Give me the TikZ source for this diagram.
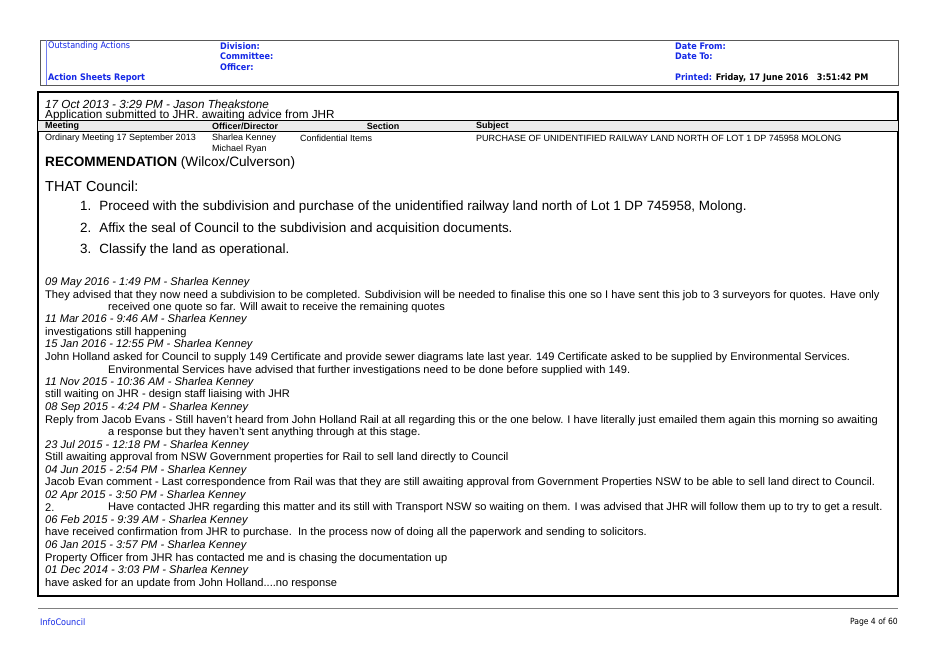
\documentclass[tikz,border=0pt]{standalone}
\usepackage{fontspec}
\setmainfont{Liberation Sans}
\newfontfamily\hdr{DejaVu Sans Condensed}
\definecolor{hblue}{RGB}{20,40,230}
\begin{document}
\begin{tikzpicture}[x=1pt,y=-1pt,
  t/.style={anchor=west,inner sep=0pt,yshift=-2pt,font=\fontsize{11.1}{12}\selectfont},
  ti/.style={t,font=\fontsize{11.1}{12}\selectfont\itshape},
  tl/.style={anchor=west,inner sep=0pt,yshift=-1.5pt,font=\fontsize{11.7}{13}\selectfont},
  sm/.style={anchor=west,inner sep=0pt,yshift=-1pt,font=\fontsize{9}{10}\selectfont},
  smb/.style={sm,font=\fontsize{9}{10}\selectfont\bfseries},
  hb/.style={anchor=west,inner sep=0pt,text=hblue,font=\hdr\fontsize{9}{10}\selectfont\bfseries},
  hn/.style={anchor=west,inner sep=0pt,text=hblue,font=\hdr\fontsize{9}{10}\selectfont},
  big/.style={anchor=west,inner sep=0pt,yshift=-1.5pt,font=\fontsize{13.4}{15}\selectfont}]
\useasboundingbox[fill=white] (0,0) rectangle (939,664);
% header
\draw[gray!70!black,line width=0.8pt] (40,40) rectangle (898,85);
\draw[hblue!60,line width=0.8pt] (46,40) -- (46,85);
\node[hn] (oa) at (48,46) {Outstanding Actions};
\node[hb] (asr) at (48,78) {Action Sheets Report};
\node[hb] (div) at (220,46) {Division:};
\node[hb] (com) at (220,56) {Committee:};
\node[hb] (off) at (220,67) {Officer:};
\node[hb] (df) at (675,46) {Date From:};
\node[hb] (dt) at (675,56) {Date To:};
\node[hb] (pr) at (675,78) {Printed: \textcolor{black}{Friday, 17 June 2016\ \ \ 3:51:42 PM}};
% main box
\draw[black,line width=1.3pt] (38,92) rectangle (898,596);
\fill[gray!15] (38,120) rectangle (898,131);
\draw[line width=0.8pt] (38,120) -- (898,120);
\draw[line width=0.6pt] (38,131) -- (898,131);
\node[tl,font=\fontsize{11.7}{13}\selectfont\itshape] (h1) at (45,103) {17 Oct 2013 - 3:29 PM - Jason Theakstone};
\node[tl] (h2) at (45,114) {Application submitted to JHR. awaiting advice from JHR};
\node[smb] (c1) at (45,125.5) {Meeting};
\node[smb] (c2) at (212,125.5) {Officer/Director};
\node[smb,anchor=center] (c3) at (383,125.5) {Section};
\node[smb] (c4) at (476,125.5) {Subject};
\node[sm] (r1) at (45,137) {Ordinary Meeting 17 September 2013};
\node[sm] (r2) at (212,137) {Sharlea Kenney};
\node[sm] (r2b) at (212,148) {Michael Ryan};
\node[sm] (r3) at (300,137) {Confidential Items};
\node[sm] (r4) at (476,137) {PURCHASE OF UNIDENTIFIED RAILWAY LAND NORTH OF LOT 1 DP 745958 MOLONG};
\node[big,font=\fontsize{13.6}{15}\selectfont] (rec) at (45,161) {\textbf{RECOMMENDATION} (Wilcox/Culverson)};
\node[big,font=\fontsize{14.5}{16}\selectfont] (tc) at (45,185) {THAT Council:};
\node[big] (n1) at (80,206) {1.\hspace{8pt}Proceed with the subdivision and purchase of the unidentified railway land north of Lot 1 DP 745958, Molong.};
\node[big] (n2) at (80,228) {2.\hspace{8pt}Affix the seal of Council to the subdivision and acquisition documents.};
\node[big] (n3) at (80,249) {3.\hspace{8pt}Classify the land as operational.};
% log
\node[ti] (a1) at (45,281) {09 May 2016 - 1:49 PM - Sharlea Kenney};
\node[t] (a2) at (45,294) {They advised that they now need a subdivision to be completed. Subdivision will be needed to finalise this one so I have sent this job to 3 surveyors for quotes. Have only};
\node[t] (a3) at (108,306) {received one quote so far. Will await to receive the remaining quotes};
\node[ti] (b1) at (45,318) {11 Mar 2016 - 9:46 AM - Sharlea Kenney};
\node[t] (b2) at (45,331) {investigations still happening};
\node[ti] (c1a) at (45,343) {15 Jan 2016 - 12:55 PM - Sharlea Kenney};
\node[t] (c2a) at (45,356) {John Holland asked for Council to supply 149 Certificate and provide sewer diagrams late last year. 149 Certificate asked to be supplied by Environmental Services.};
\node[t] (c3a) at (108,369) {Environmental Services have advised that further investigations need to be done before supplied with 149.};
\node[ti] (d1) at (45,381) {11 Nov 2015 - 10:36 AM - Sharlea Kenney};
\node[t] (d2) at (45,393) {still waiting on JHR - design staff liaising with JHR};
\node[ti] (e1) at (45,406) {08 Sep 2015 - 4:24 PM - Sharlea Kenney};
\node[t] (e2) at (45,419) {Reply from Jacob Evans - Still haven't heard from John Holland Rail at all regarding this or the one below. I have literally just emailed them again this morning so awaiting};
\node[t] (e3) at (108,431) {a response but they haven't sent anything through at this stage.};
\node[ti] (f1) at (45,444) {23 Jul 2015 - 12:18 PM - Sharlea Kenney};
\node[t] (f2) at (45,456) {Still awaiting approval from NSW Government properties for Rail to sell land directly to Council};
\node[ti] (g1) at (45,469) {04 Jun 2015 - 2:54 PM - Sharlea Kenney};
\node[t] (g2) at (45,481) {Jacob Evan comment - Last correspondence from Rail was that they are still awaiting approval from Government Properties NSW to be able to sell land direct to Council.};
\node[ti] (h1a) at (45,494) {02 Apr 2015 - 3:50 PM - Sharlea Kenney};
\node[t] (h2a) at (45,506) {2.};
\node[t] (h3a) at (108,506) {Have contacted JHR regarding this matter and its still with Transport NSW so waiting on them. I was advised that JHR will follow them up to try to get a result.};
\node[ti] (i1) at (45,519) {06 Feb 2015 - 9:39 AM - Sharlea Kenney};
\node[t] (i2) at (45,531) {have received confirmation from JHR to purchase.\ \ In the process now of doing all the paperwork and sending to solicitors.};
\node[ti] (j1) at (45,544) {06 Jan 2015 - 3:57 PM - Sharlea Kenney};
\node[t] (j2) at (45,557) {Property Officer from JHR has contacted me and is chasing the documentation up};
\node[ti] (k1) at (45,569) {01 Dec 2014 - 3:03 PM - Sharlea Kenney};
\node[t] (k2) at (45,582) {have asked for an update from John Holland....no response};
% footer
\draw[gray,line width=0.8pt] (38,608) -- (898,608);
\node[hn,font=\hdr\fontsize{9}{10}\selectfont] (ic) at (40,622) {InfoCouncil};
\node[anchor=east,inner sep=0pt,font=\hdr\fontsize{8.5}{9}\selectfont] (pg) at (898,622) {Page 4 of 60};
\end{tikzpicture}
\end{document}
